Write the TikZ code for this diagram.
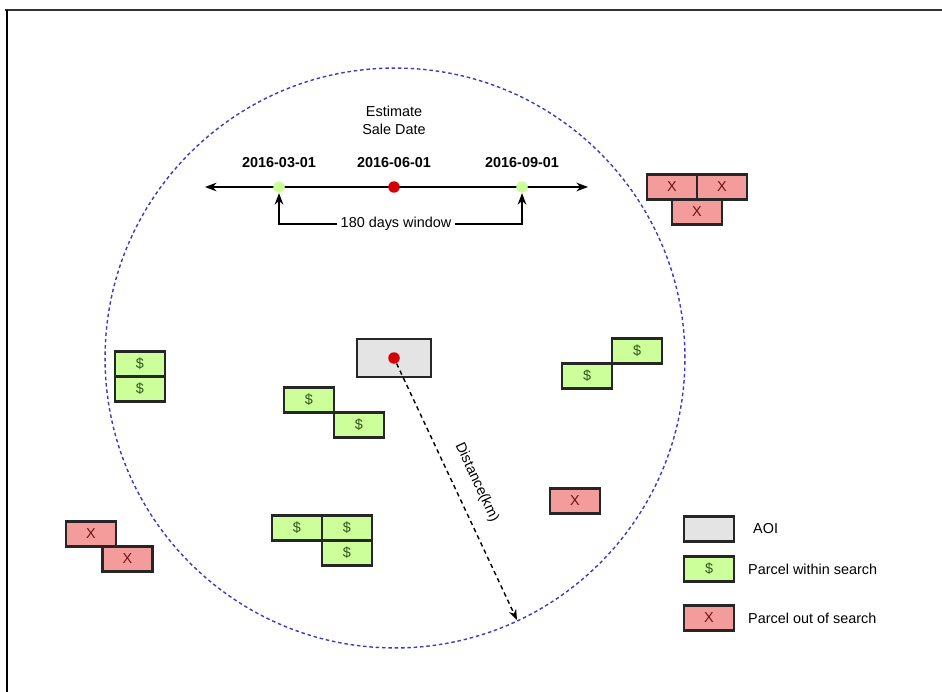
\documentclass[tikz,border=0pt]{standalone}
\usepackage{fontspec}
\setmainfont{Liberation Sans}
\usepackage{tikz}
\usetikzlibrary{arrows.meta,positioning}
\definecolor{parcelgreen}{RGB}{204,255,153}
\definecolor{parcelred}{RGB}{244,156,156}
\definecolor{aoigray}{RGB}{228,228,228}
\definecolor{edgegray}{RGB}{38,38,38}
\definecolor{dotred}{RGB}{214,0,0}
\definecolor{ringblue}{RGB}{60,60,190}
\definecolor{dollargreen}{RGB}{45,85,25}
\definecolor{crossred}{RGB}{105,20,20}

\begin{document}
\begin{tikzpicture}[>=Stealth, x=0.02cm, y=-0.02cm,
  font=\fontsize{8.2}{10}\selectfont,
  box/.style={draw=edgegray, line width=1.3pt, outer sep=0pt, inner sep=0pt,
              minimum width=1cm, minimum height=0.5cm},
  inbox/.style={box, fill=parcelgreen, text=dollargreen},
  outbox/.style={box, fill=parcelred, text=crossred},
  dotnode/.style={circle, inner sep=0pt, minimum size=0.23cm},
  datelbl/.style={font=\fontsize{8.2}{10}\selectfont\bfseries}]
\useasboundingbox (0,0) rectangle (942,692);
% frame
\draw[line width=1.4pt, black!80] (5,10) -- (942,10);
\draw[line width=1.4pt] (7,10) -- (7,692);

% search radius
\draw[ringblue, line width=0.8pt, dash pattern=on 2pt off 1.6pt]
  (395,358) circle [radius=5.8cm];

% time line
\coordinate (tl) at (205,187);
\coordinate (tr) at (588,187);
\draw[<->, line width=0.8pt] (tl) -- (tr);
\node[dotnode, fill=parcelgreen] (d1) at (279,187) {};
\node[dotnode, fill=dotred] (d2) at (394,187) {};
\node[dotnode, fill=parcelgreen] (d3) at (522,187) {};
\node[datelbl, above=0.15cm of d1] (dl1) {2016-03-01};
\node[datelbl, above=0.15cm of d2] (dl2) {2016-06-01};
\node[datelbl, above=0.15cm of d3] (dl3) {2016-09-01};
\node[align=center, above=0.2cm of dl2] (est) {Estimate\\Sale Date};
\node[fill=white, inner sep=2pt] (win) at (396,224) {180 days window};
\draw[->, line width=0.8pt] (win.west) -| (d1);
\draw[->, line width=0.8pt] (win.east) -| (d3);

% area of interest
\node[box, fill=aoigray, minimum width=1.48cm, minimum height=0.76cm] (aoi) at (394,358) {};
\node[dotnode, fill=dotred] (aoidot) at (aoi.center) {};
\coordinate (rim) at (517,620);
\draw[-{Stealth[length=6pt]}, line width=0.8pt, dash pattern=on 2.5pt off 2pt]
  (aoidot) -- (rim) node[midway, sloped, above=5pt] {Distance(km)};

% parcels out of search
\node[outbox] (xa) at (672,187) {X};
\node[outbox, right=0pt of xa] (xb) {X};
\node[outbox, below=0pt of xa.south east] (xc) {X};
\node[outbox] (xd) at (575,501) {X};
\node[outbox] (xe) at (91,534) {X};
\node[outbox, below=0pt of xe, xshift=0.73cm] (xf) {X};

% parcels within search
\node[inbox] (sa) at (140,364) {\$};
\node[inbox, below=0pt of sa] (sb) {\$};
\node[inbox] (sc) at (309,400) {\$};
\node[inbox, below right=0pt and 0pt of sc] (sd) {\$};
\node[inbox] (se) at (637,351) {\$};
\node[inbox, below left=0pt and 0pt of se] (sf) {\$};
\node[inbox] (sg) at (297,528) {\$};
\node[inbox, right=0pt of sg] (sh) {\$};
\node[inbox, below=0pt of sh] (si) {\$};

% legend
\node[box, fill=aoigray] (laoi) at (709,529) {};
\node[inbox, below=0.3cm of laoi] (lin) {\$};
\node[outbox, below=0.48cm of lin] (lout) {X};
\node[right=0.26cm of laoi] (taoi) {AOI};
\node[right=0.16cm of lin] (tin) {Parcel within search};
\node[right=0.16cm of lout] (tout) {Parcel out of search};
\end{tikzpicture}
\end{document}
